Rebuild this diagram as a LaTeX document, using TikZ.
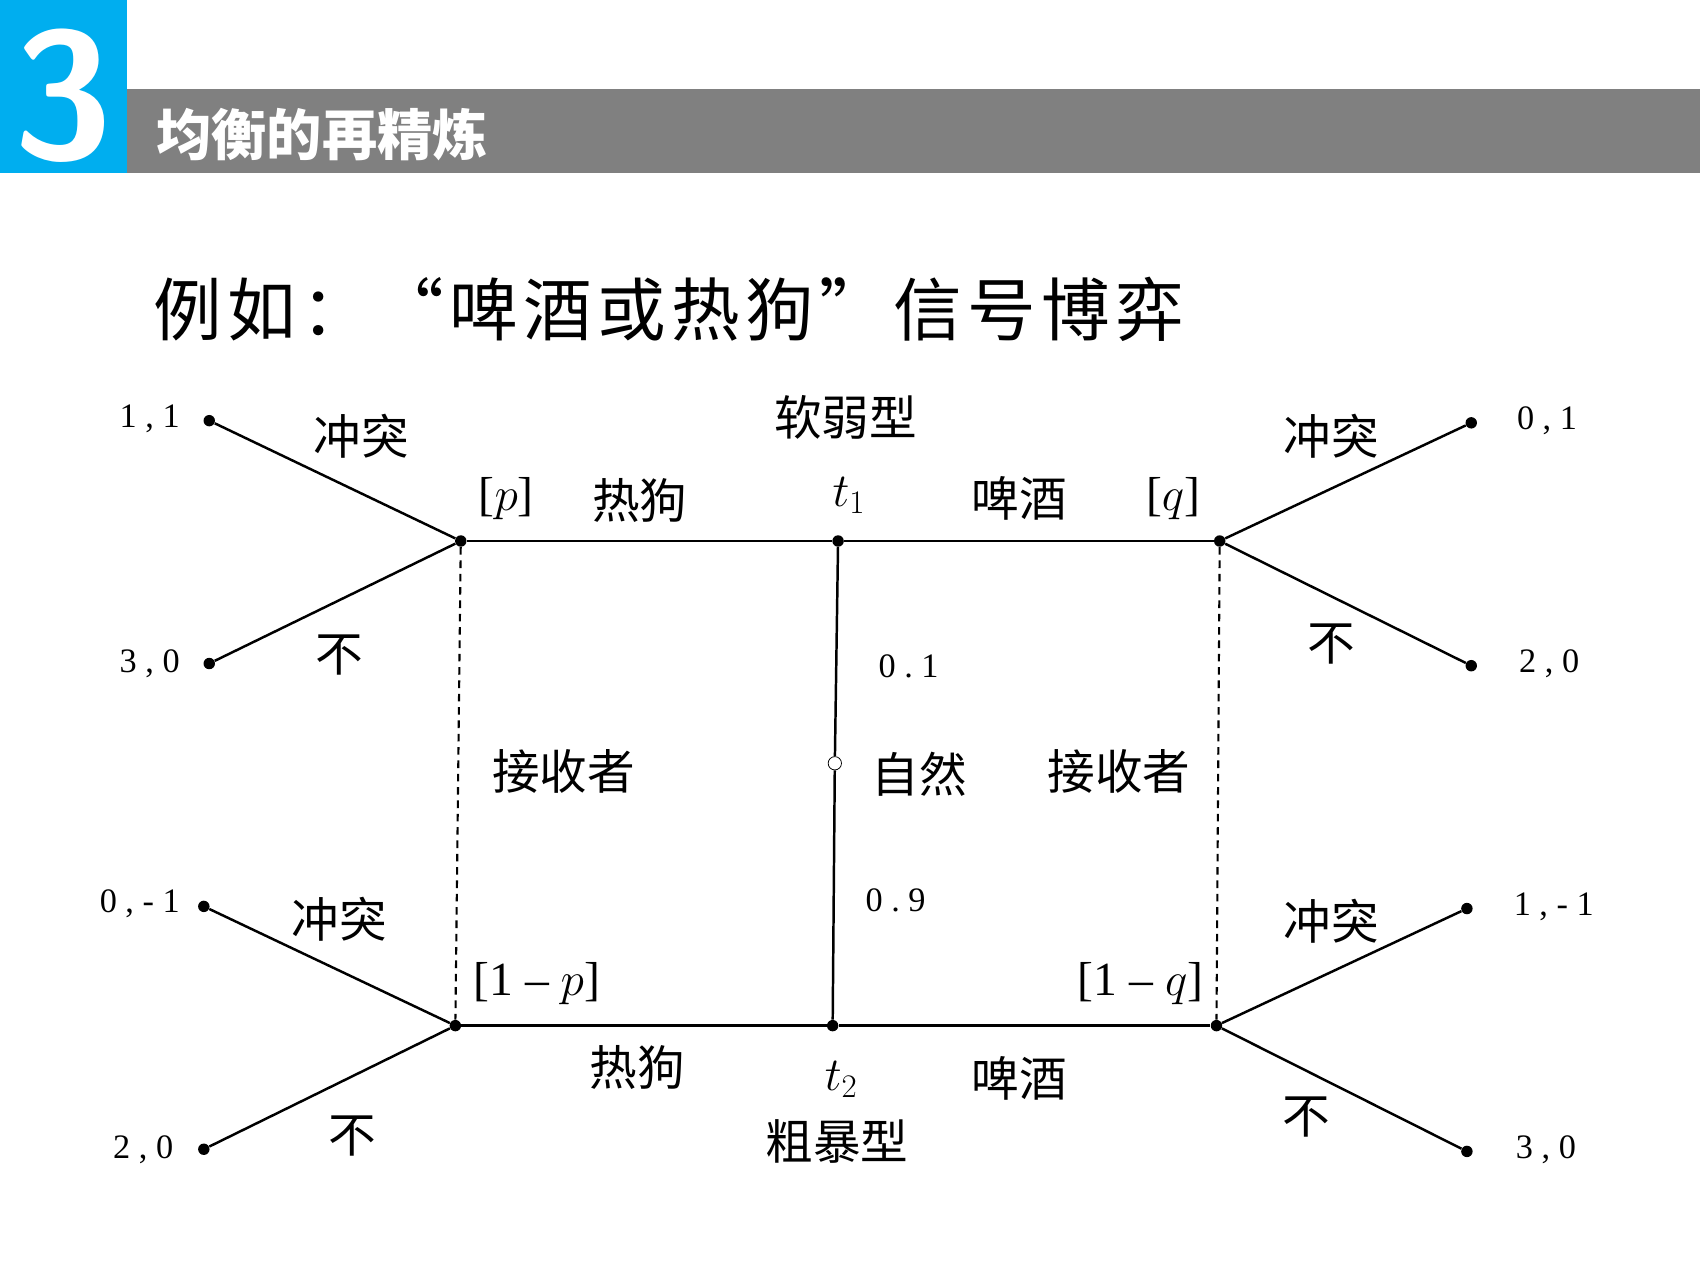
\documentclass[tikz,border=0pt]{standalone}
\usepackage{fontspec}
\newfontfamily\cjk{Noto Sans CJK SC}
\setmainfont{Liberation Serif}
\definecolor{headblue}{RGB}{0,174,239}
\definecolor{headgray}{RGB}{128,128,128}
\tikzset{
  dot/.style={circle,fill,inner sep=0pt,minimum size=6pt},
  lab/.style={font=\cjk\fontsize{25}{25}\selectfont},
  pay/.style={font=\addfontfeature{LetterSpace=25}\fontsize{18}{18}\selectfont},
  edge/.style={line width=1.3pt},
  info/.style={line width=1.1pt,dash pattern=on 4pt off 3pt}
}
\begin{document}
\begin{tikzpicture}[x=0.02cm,y=-0.02cm]
        \useasboundingbox (0,0) rectangle (1568,1176);
        % Header
        \fill[headblue] (0,0) rectangle (117,160);
        \fill[headgray] (117,82) rectangle (1568,160);
        \node[white,font=\sffamily\bfseries\fontsize{95}{95}\selectfont] (num) at (58,88) {3};
        \node[white,anchor=west,font=\cjk\bfseries\fontsize{29}{29}\selectfont] (title) at (138,124) {均衡的再精炼};
        \node[anchor=west,font=\cjk\addfontfeature{LetterSpace=8}\fontsize{36}{36}\selectfont] (sub) at (135,285) {例如：“啤酒或热狗”信号博弈};
        % Decision nodes
        \node[dot] (tL) at (425,499) {};
        \node[dot] (t1) at (773,499) {};
        \node[dot] (tR) at (1125,499) {};
        \node[dot] (bL) at (420,946) {};
        \node[dot] (t2) at (768,946) {};
        \node[dot] (bR) at (1122,946) {};
        \node[circle,draw,fill=white,inner sep=0pt,minimum size=7pt] (nat) at (770,704) {};
        % Terminal nodes
        \node[dot] (e1) at (193,388) {};
        \node[dot] (e2) at (193,612) {};
        \node[dot] (e3) at (188,836) {};
        \node[dot] (e4) at (188,1060) {};
        \node[dot] (e5) at (1357,390) {};
        \node[dot] (e6) at (1357,614) {};
        \node[dot] (e7) at (1353,838) {};
        \node[dot] (e8) at (1353,1062) {};
        % Edges
        \draw[edge] (tL) -- (t1) -- (tR);
        \draw[edge] (bL) -- (t2) -- (bR);
        \draw[edge] (t1) -- (nat) -- (t2);
        \draw[edge] (tL) -- (e1) (tL) -- (e2) (bL) -- (e3) (bL) -- (e4);
        \draw[edge] (tR) -- (e5) (tR) -- (e6) (bR) -- (e7) (bR) -- (e8);
        \draw[info] (tL) -- (bL);
        \draw[info] (tR) -- (bR);
        % Payoffs
        \node[pay,anchor=east] at (172,386) {1,1};
        \node[pay,anchor=east] at (172,612) {3,0};
        \node[pay,anchor=east] at (172,834) {0,-1};
        \node[pay,anchor=east] at (166,1060) {2,0};
        \node[pay,anchor=west] at (1393,388) {0,1};
        \node[pay,anchor=west] at (1395,612) {2,0};
        \node[pay,anchor=west] at (1390,836) {1,-1};
        \node[pay,anchor=west] at (1392,1060) {3,0};
        % Labels
        \node[lab] at (333,402) {冲突};
        \node[lab] at (313,604) {不};
        \node[lab] at (313,848) {冲突};
        \node[lab] at (325,1048) {不};
        \node[lab] at (1228,402) {冲突};
        \node[lab] at (1228,594) {不};
        \node[lab] at (1228,850) {冲突};
        \node[lab] at (1205,1030) {不};
        \node[lab] at (780,385) {软弱型};
        \node[lab] at (772,1053) {粗暴型};
        \node[lab] at (590,462) {热狗};
        \node[lab] at (940,460) {啤酒};
        \node[lab] at (588,985) {热狗};
        \node[lab] at (940,995) {啤酒};
        \node[lab] at (520,712) {接收者};
        \node[lab] at (1032,712) {接收者};
        \node[lab] at (848,714) {自然};
        \node[font=\fontsize{25}{25}\selectfont] at (467,460) {[$p$]};
        \node[font=\fontsize{25}{25}\selectfont] at (1082,460) {[$q$]};
        \node[font=\fontsize{25}{25}\selectfont] at (495,907) {[1 -- $p$]};
        \node[font=\fontsize{25}{25}\selectfont] at (1052,907) {[1 -- $q$]};
        \node[font=\fontsize{24}{24}\selectfont] at (783,457) {$t_1$};
        \node[font=\fontsize{24}{24}\selectfont] at (776,996) {$t_2$};
        \node[pay] at (838,615) {0.1};
        \node[pay] at (826,830) {0.9};
\end{tikzpicture}
\end{document}
